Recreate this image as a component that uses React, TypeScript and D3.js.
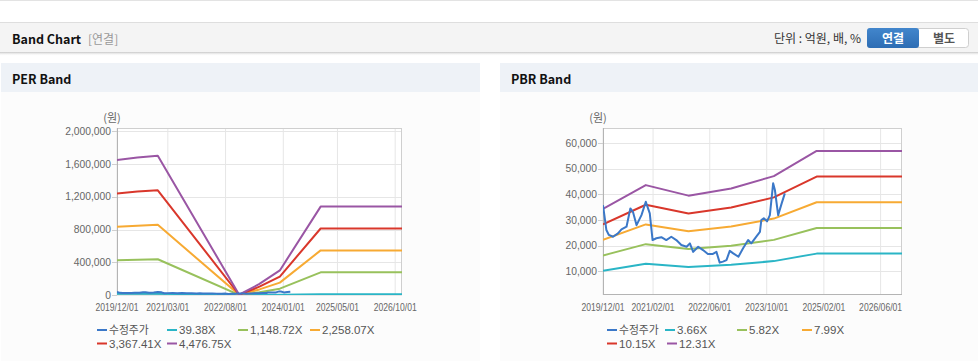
import { useEffect, useRef } from 'react';
import * as d3 from 'd3';

// 수정주가 (shared by both charts)
const priceDates = [
  '2019-12-01', '2019-12-30', '2020-01-20', '2020-02-25', '2020-04-07', '2020-05-07',
  '2020-06-19', '2020-07-22', '2020-08-13', '2020-09-13', '2020-10-25', '2020-12-01',
  '2021-01-04', '2021-01-28', '2021-03-01', '2021-04-13', '2021-05-25', '2021-07-07',
  '2021-08-19', '2021-10-01', '2021-11-15', '2021-12-13', '2022-01-10', '2022-02-22',
  '2022-04-04', '2022-05-16', '2022-06-28', '2022-07-28', '2022-08-25', '2022-09-22',
  '2022-10-22', '2022-11-19', '2022-12-19', '2023-02-01', '2023-03-13', '2023-04-25',
  '2023-05-22', '2023-07-04', '2023-08-04', '2023-08-16', '2023-09-06', '2023-10-04',
  '2023-10-28', '2023-11-25', '2023-12-10', '2024-01-07', '2024-02-06', '2024-03-04',
];
const priceValues = [
  35800, 26100, 24200, 23500, 24800, 26400,
  27400, 34500, 33200, 28000, 31900, 37100,
  32600, 22200, 22900, 23300, 22200, 23500,
  22200, 20300, 19600, 20900, 17600, 19600,
  18300, 16800, 16800, 17600, 13400, 13800,
  14400, 18000, 17000, 15700, 19000, 22200,
  20900, 23500, 25400, 30000, 30700, 29500,
  31900, 44300, 41700, 31900, 36500, 40400,
];

// PER band
const perBandDates = ['2019-12-01', '2020-06-01', '2020-12-01', '2022-12-01', '2023-06-01', '2023-12-01', '2024-12-01', '2026-12-01'];
const perLabels = ['수정주가', '39.38X', '1,148.72X', '2,258.07X', '3,367.41X', '4,476.75X'];
const per1 = [14500, 14800, 15000, 35, 1190, 2640, 9500, 9500];
const per2 = [423400, 431100, 436200, 1000, 34600, 77000, 277100, 277100];
const per3 = [832300, 847400, 857500, 2000, 68100, 151300, 544800, 544800];
const per4 = [1241000, 1264000, 1279000, 3000, 101500, 225700, 812400, 812400];
const per5 = [1650000, 1680000, 1700000, 4000, 135000, 300000, 1080000, 1080000];
const perXTicks = ['2019-12-01', '2021-03-01', '2022-08-01', '2024-01-01', '2025-05-01', '2026-10-01'];
const perYTicks = [0, 400000, 800000, 1200000, 1600000, 2000000];

// PBR band
const pbrBandDates = ['2019-12-01', '2020-12-01', '2021-12-01', '2022-12-01', '2023-12-01', '2024-12-01', '2026-12-01'];
const pbrLabels = ['수정주가', '3.66X', '5.82X', '7.99X', '10.15X', '12.31X'];
const pbr1 = [10200, 12960, 11740, 12580, 14000, 16920, 16920];
const pbr2 = [16220, 20610, 18680, 20000, 22270, 26900, 26900];
const pbr3 = [22260, 28300, 25640, 27450, 30570, 36930, 36930];
const pbr4 = [28280, 35950, 32570, 34880, 38830, 46910, 46910];
const pbr5 = [34300, 43600, 39500, 42300, 47100, 56900, 56900];
const pbrXTicks = ['2019-12-01', '2021-02-01', '2022-06-01', '2023-10-01', '2025-02-01', '2026-06-01'];
const pbrYTicks = [10000, 20000, 30000, 40000, 50000, 60000];

const colors = ['#3b78c8', '#2ab5c6', '#98c15c', '#f7aa33', '#d9372b', '#9a56a4'];

const parse = d3.utcParse('%Y-%m-%d');
const fmtDate = d3.utcFormat('%Y/%m/%d');
const fmtNum = d3.format(',');
const tickFont = '"Liberation Sans", Arial, sans-serif';
const legendFont = '"Liberation Sans", Arial, "Noto Sans CJK KR", sans-serif';
const krFont = '"Noto Sans CJK KR", "Noto Sans", sans-serif';

interface Series {
  label: string;
  color: string;
  dates: string[];
  values: number[];
}

interface ChartCfg {
  id: string;
  left: number;
  right: number;
  top: number;
  bottom: number;
  xStart: string;
  xEnd: string;
  yDomain: [number, number];
  xTicks: string[];
  yTicks: number[];
  series: Series[];
  legendX: number[];
  legendX2: number[];
}

function drawChart(svg: d3.Selection<SVGSVGElement, unknown, null, undefined>, cfg: ChartCfg) {
  const g = svg.append('g');
  const x = d3.scaleUtc().domain([parse(cfg.xStart)!, parse(cfg.xEnd)!]).range([cfg.left, cfg.right]);
  const y = d3.scaleLinear().domain(cfg.yDomain).range([cfg.bottom, cfg.top]);

  g.append('rect')
    .attr('x', cfg.left).attr('y', cfg.top)
    .attr('width', cfg.right - cfg.left).attr('height', cfg.bottom - cfg.top)
    .attr('fill', '#fff');

  // grid
  g.selectAll('.vgrid').data(cfg.xTicks).enter().append('line')
    .attr('x1', (d) => x(parse(d)!)).attr('x2', (d) => x(parse(d)!))
    .attr('y1', cfg.top).attr('y2', cfg.bottom)
    .attr('stroke', '#e6e6e6').attr('stroke-width', 1);
  g.selectAll('.hgrid').data(cfg.yTicks).enter().append('line')
    .attr('x1', cfg.left).attr('x2', cfg.right)
    .attr('y1', (d) => Math.round(y(d)) + 0.5).attr('y2', (d) => Math.round(y(d)) + 0.5)
    .attr('stroke', '#e6e6e6').attr('stroke-width', 1);

  // frame
  g.append('rect')
    .attr('x', cfg.left + 0.5).attr('y', cfg.top + 0.5)
    .attr('width', cfg.right - cfg.left - 1).attr('height', cfg.bottom - cfg.top - 1)
    .attr('fill', 'none').attr('stroke', '#cfcfcf');
  g.append('line')
    .attr('x1', cfg.left + 0.5).attr('x2', cfg.left + 0.5)
    .attr('y1', cfg.top).attr('y2', cfg.bottom)
    .attr('stroke', '#b4b4b4');
  g.append('line')
    .attr('x1', cfg.left).attr('x2', cfg.right)
    .attr('y1', cfg.bottom - 0.5).attr('y2', cfg.bottom - 0.5)
    .attr('stroke', '#b4b4b4');

  // y ticks + labels
  g.selectAll('.ytick').data(cfg.yTicks).enter().append('line')
    .attr('x1', cfg.left - 5).attr('x2', cfg.left)
    .attr('y1', (d) => Math.round(y(d)) + 0.5).attr('y2', (d) => Math.round(y(d)) + 0.5)
    .attr('stroke', '#cfcfcf');
  g.selectAll('.ylab').data(cfg.yTicks).enter().append('text')
    .attr('x', cfg.left - 6).attr('y', (d) => y(d) + 3.6)
    .attr('text-anchor', 'end')
    .style('font-family', tickFont).style('font-size', '10.3px').style('fill', '#666')
    .text((d) => fmtNum(d));

  // x labels (squeezed a little, the original face is narrower)
  g.selectAll('.xlab').data(cfg.xTicks).enter().append('text')
    .attr('transform', (d) => `translate(${x(parse(d)!)},${cfg.bottom + 15.5}) scale(0.86,1)`)
    .attr('text-anchor', 'middle')
    .style('font-family', tickFont).style('font-size', '10px').style('fill', '#666')
    .text((d) => fmtDate(parse(d)!));

  // unit
  g.append('text')
    .attr('x', cfg.left - 5).attr('y', cfg.top - 6)
    .attr('text-anchor', 'middle')
    .style('font-family', krFont).style('font-size', '11px').style('fill', '#666')
    .text('(원)');

  // series
  const clipId = `clip-${cfg.id}`;
  svg.append('clipPath').attr('id', clipId).append('rect')
    .attr('x', cfg.left).attr('y', cfg.top)
    .attr('width', cfg.right - cfg.left).attr('height', cfg.bottom - cfg.top);

  const line = d3.line<[Date, number]>().x((d) => x(d[0])).y((d) => y(d[1]));
  const order = [1, 2, 3, 4, 5, 0];
  const lines = g.append('g').attr('clip-path', `url(#${clipId})`);
  order.forEach((i) => {
    const s = cfg.series[i];
    const pts = s.dates.map((d, k) => [parse(d)!, s.values[k]] as [Date, number]);
    lines.append('path')
      .attr('d', line(pts))
      .attr('fill', 'none')
      .attr('stroke', s.color)
      .attr('stroke-width', 2)
      .attr('stroke-linejoin', 'round');
  });

  // legend
  cfg.series.forEach((s, i) => {
    const row = i < 4 ? 0 : 1;
    const lx = row === 0 ? cfg.legendX[i] : cfg.legendX2[i - 4];
    const ly = row === 0 ? 330 : 343.5;
    g.append('line')
      .attr('x1', lx).attr('x2', lx + 10)
      .attr('y1', ly).attr('y2', ly)
      .attr('stroke', s.color).attr('stroke-width', 2);
    g.append('text')
      .attr('x', lx + 12).attr('y', ly + 4)
      .style('font-family', i === 0 ? krFont : legendFont)
      .style('font-size', i === 0 ? '10.8px' : '11.5px')
      .style('fill', '#555')
      .text(s.label);
  });
}

function buildSeries(labels: string[], dates: string[], bands: number[][]): Series[] {
  return labels.map((label, i) => ({
    label,
    color: colors[i],
    dates: i === 0 ? priceDates : dates,
    values: i === 0 ? priceValues : bands[i - 1],
  }));
}

export default function App() {
  const svgRef = useRef<SVGSVGElement>(null);

  useEffect(() => {
    if (!svgRef.current) return;
    const svg = d3.select(svgRef.current);
    svg.selectAll('*').remove();

    const defs = svg.append('defs');
    const shadow = defs.append('linearGradient').attr('id', 'hdrShadow').attr('x1', 0).attr('x2', 0).attr('y1', 0).attr('y2', 1);
    shadow.append('stop').attr('offset', '0%').attr('stop-color', '#c8c8c8');
    shadow.append('stop').attr('offset', '100%').attr('stop-color', '#ffffff').attr('stop-opacity', 0);
    const btn = defs.append('linearGradient').attr('id', 'btnBlue').attr('x1', 0).attr('x2', 0).attr('y1', 0).attr('y2', 1);
    btn.append('stop').attr('offset', '0%').attr('stop-color', '#4286cc');
    btn.append('stop').attr('offset', '100%').attr('stop-color', '#2d6db4');

    svg.append('rect').attr('width', 978).attr('height', 361).attr('fill', '#fff');
    svg.append('line').attr('x1', 0).attr('x2', 978).attr('y1', 0.5).attr('y2', 0.5).attr('stroke', '#e3e3e3');

    // header bar
    svg.append('rect').attr('x', 0).attr('y', 22).attr('width', 978).attr('height', 31).attr('fill', '#f4f4f4');
    svg.append('line').attr('x1', 0).attr('x2', 978).attr('y1', 22.5).attr('y2', 22.5).attr('stroke', '#dedede');
    svg.append('rect').attr('x', 0).attr('y', 52).attr('width', 978).attr('height', 4).attr('fill', 'url(#hdrShadow)');
    svg.append('text').attr('x', 12).attr('y', 44)
      .style('font-family', krFont).style('font-size', '12.5px').style('font-weight', 'bold').style('fill', '#111')
      .text('Band Chart');
    svg.append('text').attr('x', 88).attr('y', 44)
      .style('font-family', krFont).style('font-size', '12px').style('fill', '#999')
      .text('[연결]');
    svg.append('text').attr('x', 861).attr('y', 43)
      .attr('text-anchor', 'end')
      .style('font-family', krFont).style('font-size', '12px').style('fill', '#333')
      .text('단위 : 억원, 배, %');
    svg.append('rect').attr('x', 867.5).attr('y', 28.5).attr('width', 101).attr('height', 19).attr('rx', 3)
      .attr('fill', '#fff').attr('stroke', '#cfcfcf');
    svg.append('rect').attr('x', 867).attr('y', 28).attr('width', 52).attr('height', 20).attr('rx', 3)
      .attr('fill', 'url(#btnBlue)');
    svg.append('text').attr('x', 893).attr('y', 42.5).attr('text-anchor', 'middle')
      .style('font-family', krFont).style('font-size', '12px').style('font-weight', 'bold').style('fill', '#fff')
      .text('연결');
    svg.append('text').attr('x', 944).attr('y', 42.5).attr('text-anchor', 'middle')
      .style('font-family', krFont).style('font-size', '12px').style('font-weight', 'bold').style('fill', '#555')
      .text('별도');

    // panels
    const panels = [
      { x: 1, w: 479, title: 'PER Band' },
      { x: 500, w: 478, title: 'PBR Band' },
    ];
    panels.forEach((p) => {
      svg.append('rect').attr('x', p.x).attr('y', 92).attr('width', p.w).attr('height', 269).attr('fill', '#fcfcfc');
      svg.append('rect').attr('x', p.x).attr('y', 63).attr('width', p.w).attr('height', 29).attr('fill', '#eef2f7');
      svg.append('text').attr('x', p.x + 11).attr('y', 84)
        .style('font-family', krFont).style('font-size', '12.5px').style('font-weight', 'bold').style('fill', '#111')
        .text(p.title);
    });

    drawChart(svg, {
      id: 'per',
      left: 117, right: 402, top: 128, bottom: 295,
      xStart: '2019-12-01', xEnd: '2026-12-01',
      yDomain: [0, 2040000],
      xTicks: perXTicks, yTicks: perYTicks,
      series: buildSeries(perLabels, perBandDates, [per1, per2, per3, per4, per5]),
      legendX: [97, 167, 238, 310],
      legendX2: [97, 167],
    });

    drawChart(svg, {
      id: 'pbr',
      left: 603, right: 902, top: 128, bottom: 295,
      xStart: '2019-12-01', xEnd: '2026-12-01',
      yDomain: [800, 65850],
      xTicks: pbrXTicks, yTicks: pbrYTicks,
      series: buildSeries(pbrLabels, pbrBandDates, [pbr1, pbr2, pbr3, pbr4, pbr5]),
      legendX: [607, 665, 737, 802],
      legendX2: [607, 667],
    });
  }, []);

  return (
    <div style={{ position: 'absolute', left: 0, top: 0 }}>
      <svg ref={svgRef} width={978} height={361} style={{ display: 'block' }} />
    </div>
  );
}
